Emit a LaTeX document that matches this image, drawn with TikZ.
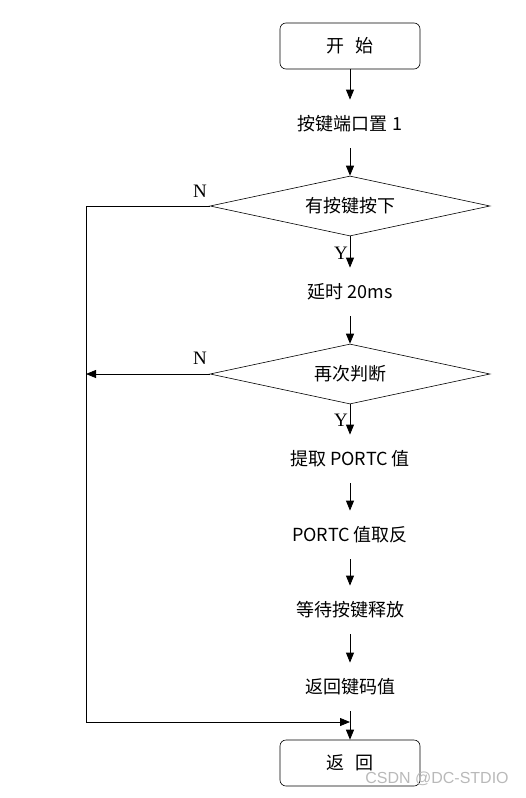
\documentclass[tikz,border=0pt]{standalone}
\usepackage{fontspec}
\newfontfamily\cjk{Noto Sans CJK SC}
\newfontfamily\tms{Liberation Serif}
\newfontfamily\wmark{Liberation Sans}
\usetikzlibrary{shapes.geometric,arrows.meta}
\begin{document}
\begin{tikzpicture}[
  x=1pt, y=-1pt,
  line width=0.8pt,
  font=\cjk\fontsize{18}{20}\selectfont,
  >={Triangle[length=10pt,width=8pt]},
  termbox/.style={draw, line width=0.6pt, rounded corners=6pt, minimum width=140pt, minimum height=46pt},
  stepbox/.style={inner sep=0pt, minimum height=48pt},
  decide/.style={draw, line width=0.6pt, diamond, aspect=4.67, inner sep=0pt, minimum width=280pt, minimum height=60pt},
  yn/.style={font=\tms\fontsize{19}{20}\selectfont}
]
\useasboundingbox (0,0) rectangle (525,798);

% main column
\node [termbox] (start) at (350,46) {开\hspace{0.6em}始};
\node [stepbox] (init) at (350,124) {按键端口置 1};
\node [decide] (press) at (350,206) {有按键按下};
\node [stepbox] (delay) at (350,292) {延时 20ms};
\node [decide] (check) at (350,374) {再次判断};
\node [stepbox] (fetch) at (350,459) {提取 PORTC 值};
\node [stepbox] (invert) at (350,535) {PORTC 值取反};
\node [stepbox] (release) at (350,610) {等待按键释放};
\node [stepbox] (keycode) at (350,687) {返回键码值};
\node [termbox] (ret) at (350,763) {返\hspace{0.6em}回};

\draw [->] (start) -- (init);
\draw [->] (init) -- (press);
\draw [->] (press) -- (delay);
\draw [->] (delay) -- (check);
\draw [->] (check) -- (fetch);
\draw [->] (fetch) -- (invert);
\draw [->] (invert) -- (release);
\draw [->] (release) -- (keycode);
\draw [->] (keycode) -- (ret);

% N branches
\coordinate (lft) at (86,206);
\coordinate (join) at (350,722);
\draw [->] (press.west) -- (lft) |- (join);
\draw [->] (check.west) -- (check.west -| lft);

\node [yn] (n1) at (200,191) {N};
\node [yn] (n2) at (200,358) {N};
\node [yn] (y1) at (341,253) {Y};
\node [yn] (y2) at (341,420) {Y};

\node [font=\wmark\fontsize{16}{18}\selectfont, text=gray!55] (mark) at (437,779) {CSDN @DC-STDIO};
\end{tikzpicture}
\end{document}
